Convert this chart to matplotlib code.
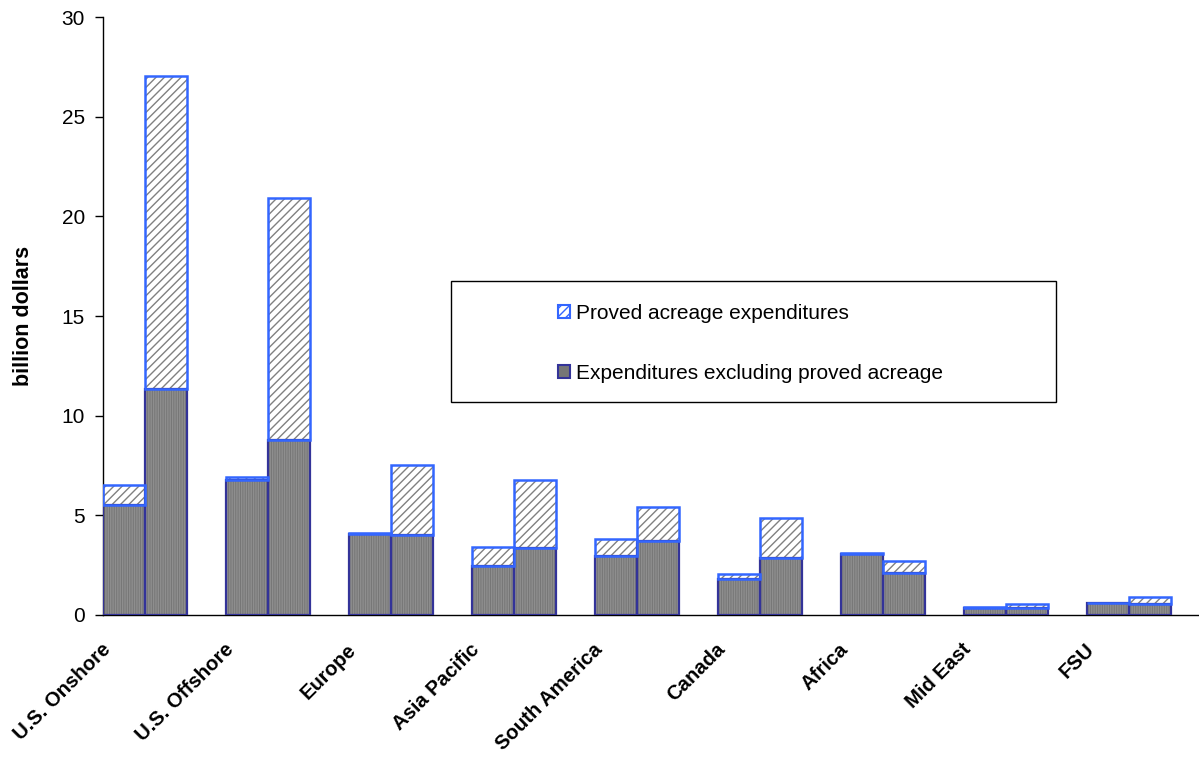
import numpy as np
import matplotlib
matplotlib.use("Agg")
import matplotlib.pyplot as plt
from matplotlib.patches import Rectangle, Patch

plt.rcParams['font.family'] = ['Liberation Sans', 'DejaVu Sans']
plt.rcParams['hatch.linewidth'] = 1.0

regions = ["U.S. Onshore", "U.S. Offshore", "Europe", "Asia Pacific",
           "South America", "Canada", "Africa", "Mid East", "FSU"]

# billion dollars, first and second period for each region
excl_first = [5.53, 6.76, 4.08, 2.46, 2.96, 1.79, 3.08, 0.35, 0.62]
proved_first = [1.00, 0.15, 0.05, 0.97, 0.84, 0.25, 0.02, 0.07, 0.00]
excl_second = [11.32, 8.76, 4.01, 3.38, 3.73, 2.88, 2.12, 0.34, 0.55]
proved_second = [15.72, 12.16, 3.52, 3.39, 1.70, 2.00, 0.59, 0.21, 0.37]

yticks = [0, 5, 10, 15, 20, 25, 30]

lbl_proved = "Proved acreage expenditures"
lbl_excl = "Expenditures excluding proved acreage"

BLUE = "#3366ff"
NAVY = "#333399"
DARK = "#767676"
DARK_HATCH = "#8e8e8e"
LIGHT_HATCH = "#808080"

fig = plt.figure(figsize=(11.99, 7.57), dpi=100)
ax = fig.add_axes([0.0859, 0.1876, 0.9141, 0.7899])

x = np.arange(len(regions))
w = 0.341

for offs, excl, proved in [(-w / 2, excl_first, proved_first),
                           (w / 2, excl_second, proved_second)]:
    xs = x + offs
    # lower segment: dark fill with fine vertical texture
    ax.bar(xs, excl, width=w, color=DARK, edgecolor=DARK_HATCH,
           hatch="|||||||", linewidth=0, zorder=2)
    # upper segment: white with diagonal hatching
    ax.bar(xs, proved, width=w, bottom=excl, color="white",
           edgecolor=LIGHT_HATCH, hatch="////", linewidth=0, zorder=2)
    # outlines
    ax.bar(xs, excl, width=w, fill=False, edgecolor=NAVY,
           linewidth=1.6, zorder=3)
    ax.bar(xs, proved, width=w, bottom=excl, fill=False, edgecolor=BLUE,
           linewidth=1.8, zorder=4)

ax.set_xlim(-0.341, 8.57)
ax.set_ylim(0, 30)
ax.set_yticks(yticks)
ax.set_yticklabels([str(v) for v in yticks], fontsize=15)
ax.tick_params(axis='y', direction='out', length=6, width=1, pad=7)
ax.set_xticks([])

for s in ["top", "right"]:
    ax.spines[s].set_visible(False)
for s in ["left", "bottom"]:
    ax.spines[s].set_linewidth(1.0)
    ax.spines[s].set_color("black")

for i, name in enumerate(regions):
    ax.text(i - 0.25, -1.25, name, rotation=45, ha="right", va="top",
            fontsize=14.6, fontweight="bold", clip_on=False)

ax.set_ylabel("billion dollars", fontsize=15.5, fontweight="bold")
ax.yaxis.set_label_coords(-0.063, 0.5)

# legend frame and entries
ax.add_patch(Rectangle((0.3175, 0.356), 0.552, 0.2025, transform=ax.transAxes,
                       facecolor="white", edgecolor="black", linewidth=1.0,
                       zorder=5))
handles = [
    Patch(facecolor="white", edgecolor=BLUE, hatch="////", linewidth=1.5,
          label=lbl_proved),
    Patch(facecolor=DARK, edgecolor=NAVY, linewidth=1.5, label=lbl_excl),
]
leg = ax.legend(handles=handles, loc="upper left",
                bbox_to_anchor=(0.415, 0.52), frameon=False, fontsize=15,
                handlelength=0.6, handleheight=0.6, handletextpad=0.25,
                labelspacing=1.95, borderpad=0, borderaxespad=0)
leg.set_zorder(6)

fig.savefig("out.png", dpi=100, facecolor="white")
